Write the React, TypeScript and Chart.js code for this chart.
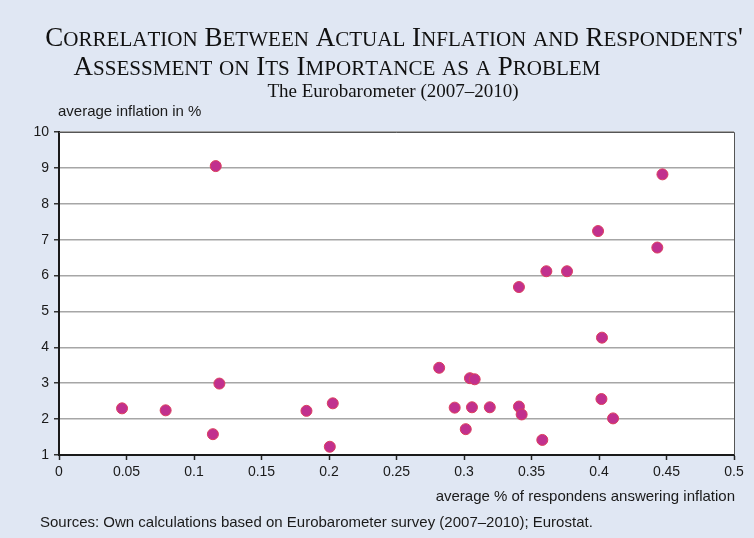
import React, { useEffect, useRef } from "react";
import { Chart, registerables } from "chart.js";

Chart.register(...registerables);

const respondentsShare: number[] = [
  0.0467, 0.079, 0.114, 0.1188, 0.1161, 0.1833, 0.2028, 0.2006, 0.2816,
  0.2931, 0.3013, 0.3044, 0.3079, 0.3059, 0.3191, 0.3407, 0.3427, 0.358,
  0.4018, 0.4104, 0.4022, 0.3407, 0.361, 0.3763, 0.3993, 0.4432, 0.447,
];
const averageInflation: number[] = [
  2.3, 2.245, 1.58, 2.99, 9.05, 2.23, 2.44, 1.23, 3.43,
  2.32, 1.72, 3.14, 3.11, 2.33, 2.33, 2.35, 2.13, 1.42,
  2.56, 2.02, 4.27, 5.68, 6.12, 6.12, 7.24, 6.78, 8.82,
];
const xTickLabels: string[] = ["0", "0.05", "0.1", "0.15", "0.2", "0.25", "0.3", "0.35", "0.4", "0.45", "0.5"];
const yTickLabels: string[] = ["1", "2", "3", "4", "5", "6", "7", "8", "9", "10"];

const titleLine1 = "Correlation Between Actual Inflation and Respondents'";
const titleLine2 = "Assessment on Its Importance as a Problem";
const subtitle = "The Eurobarometer (2007–2010)";
const yAxisTitle = "average inflation in %";
const xAxisTitle = "average % of respondens answering inflation";
const sourceNote = "Sources: Own calculations based on Eurobarometer survey (2007–2010); Eurostat.";

const SERIF = "'Liberation Serif', 'Times New Roman', serif";
const SANS = "'Liberation Sans', Arial, sans-serif";

function drawSmallCaps(ctx: CanvasRenderingContext2D, text: string, cx: number, y: number, size: number) {
  const small = size * 0.78;
  const parts: { ch: string; sz: number }[] = [];
  for (const c of text) {
    const isLower = c !== c.toUpperCase();
    parts.push({ ch: isLower ? c.toUpperCase() : c, sz: isLower ? small : size });
  }
  let total = 0;
  const widths: number[] = [];
  for (const p of parts) {
    ctx.font = `${p.sz}px ${SERIF}`;
    const w = ctx.measureText(p.ch).width;
    widths.push(w);
    total += w;
  }
  let x = cx - total / 2;
  ctx.textAlign = "left";
  ctx.textBaseline = "alphabetic";
  parts.forEach((p, i) => {
    ctx.font = `${p.sz}px ${SERIF}`;
    ctx.fillText(p.ch, x, y);
    x += widths[i];
  });
}

const decorPlugin = {
  id: "decor",
  beforeDraw(chart: any) {
    const { ctx, chartArea } = chart;
    ctx.save();
    ctx.fillStyle = "#e0e7f3";
    ctx.fillRect(0, 0, chart.width, chart.height);
    ctx.fillStyle = "#ffffff";
    ctx.fillRect(chartArea.left, chartArea.top, chartArea.right - chartArea.left, chartArea.bottom - chartArea.top);
    ctx.restore();
  },
  afterDraw(chart: any) {
    const { ctx, chartArea } = chart;
    ctx.save();
    // top and right frame
    ctx.strokeStyle = "#555555";
    ctx.lineWidth = 1;
    ctx.beginPath();
    ctx.moveTo(chartArea.left, chartArea.top + 0.5);
    ctx.lineTo(chartArea.right + 0.5, chartArea.top + 0.5);
    ctx.lineTo(chartArea.right + 0.5, chartArea.bottom);
    ctx.stroke();

    ctx.fillStyle = "#111111";
    drawSmallCaps(ctx, titleLine1, 394, 46, 27);
    drawSmallCaps(ctx, titleLine2, 337, 75, 27);

    ctx.font = `19px ${SERIF}`;
    ctx.textAlign = "center";
    ctx.textBaseline = "alphabetic";
    ctx.fillText(subtitle, 393, 97);

    ctx.fillStyle = "#1a1a1a";
    ctx.font = `15px ${SANS}`;
    ctx.textBaseline = "middle";
    ctx.textAlign = "left";
    ctx.fillText(yAxisTitle, 58, 112);

    ctx.textAlign = "right";
    ctx.fillText(xAxisTitle, chartArea.right + 1, 497);

    ctx.textAlign = "left";
    ctx.fillText(sourceNote, 40, 523);
    ctx.restore();
  },
};

export default function App() {
  const canvasRef = useRef<HTMLCanvasElement | null>(null);

  useEffect(() => {
    document.body.style.margin = "0";
    const canvas = canvasRef.current;
    if (!canvas) return;
    const chart = new Chart(canvas, {
      type: "scatter",
      data: {
        datasets: [
          {
            data: respondentsShare.map((x, i) => ({ x, y: averageInflation[i] })),
            backgroundColor: "#c1308e",
            borderColor: "#dc3f5e",
            borderWidth: 1,
            pointRadius: 5.5,
          },
        ],
      },
      options: {
        animation: false,
        responsive: false,
        devicePixelRatio: 1,
        events: [],
        layout: { padding: { top: 132, right: 20, bottom: 0, left: 0 } },
        plugins: {
          legend: { display: false },
          tooltip: { enabled: false },
          title: { display: false },
        },
        scales: {
          x: {
            type: "linear",
            position: "bottom",
            min: 0,
            max: 0.5,
            afterFit: (s: any) => {
              s.height = 83;
            },
            ticks: {
              stepSize: 0.05,
              autoSkip: false,
              maxRotation: 0,
              padding: 4,
              color: "#1a1a1a",
              font: { family: SANS, size: 14 },
              callback: (_v: any, i: number) => xTickLabels[i],
            },
            grid: {
              drawOnChartArea: false,
              drawTicks: true,
              tickLength: 5,
              tickColor: "#222222",
              tickWidth: 1.5,
            },
            border: { color: "#1a1a1a", width: 2 },
          },
          y: {
            type: "linear",
            min: 1,
            max: 10,
            afterFit: (s: any) => {
              s.width = 59;
            },
            ticks: {
              stepSize: 1,
              padding: 5,
              color: "#1a1a1a",
              font: { family: SANS, size: 14 },
              callback: (_v: any, i: number) => yTickLabels[i],
            },
            grid: {
              color: "#a6a6a6",
              lineWidth: 1.5,
              tickColor: "#333333",
              tickLength: 5,
              tickWidth: 1.5,
            },
            border: { color: "#1a1a1a", width: 2 },
          },
        },
      },
      plugins: [decorPlugin],
    });
    return () => chart.destroy();
  }, []);

  return (
    <div style={{ width: 754, height: 538 }}>
      <canvas ref={canvasRef} width={754} height={538} style={{ display: "block" }} />
    </div>
  );
}
